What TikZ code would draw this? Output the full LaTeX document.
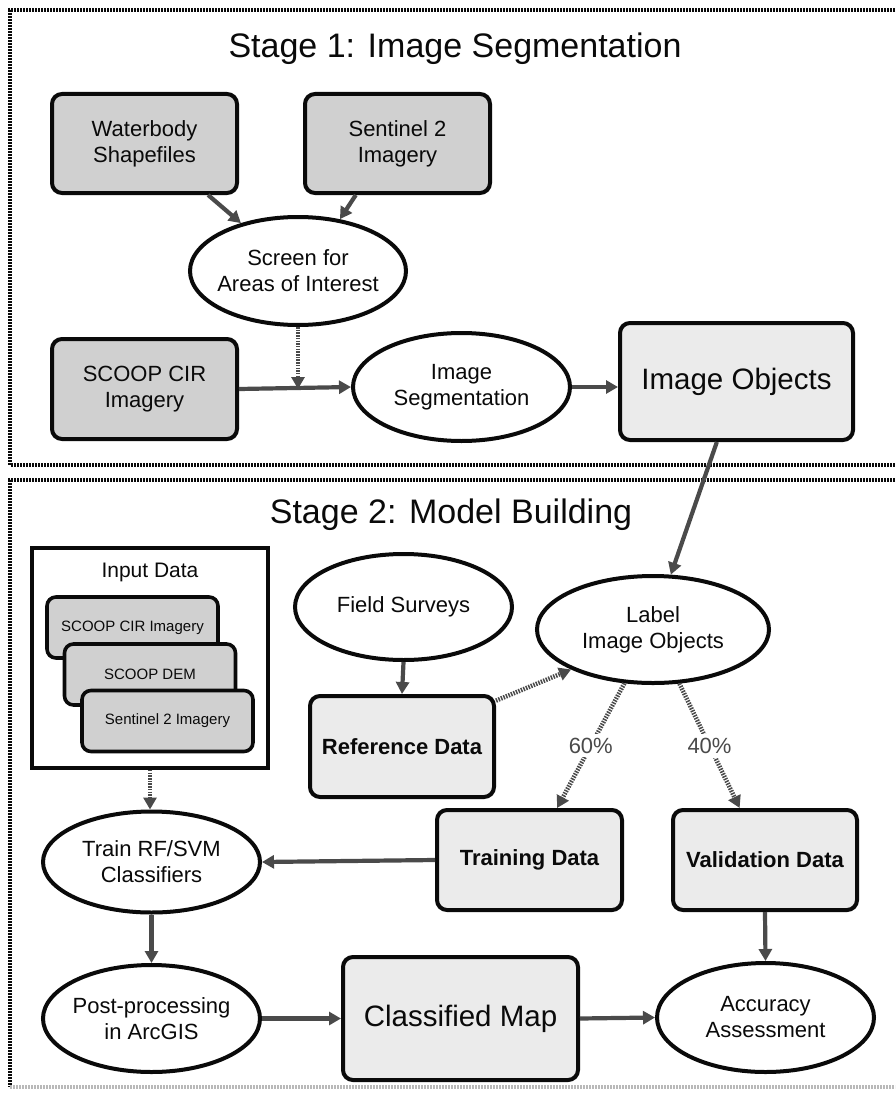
\documentclass[tikz,border=0pt]{standalone}
\usepackage{fontspec}
\setmainfont{Liberation Sans}
\usetikzlibrary{shapes.geometric,arrows.meta}
\definecolor{dk}{HTML}{D0D0D0}
\definecolor{lt}{HTML}{EBEBEB}
\definecolor{ar}{HTML}{4A4A4A}
\definecolor{ink}{HTML}{0A0A0A}
\begin{document}
\begin{tikzpicture}[x=1pt,y=-1pt,
 frame/.style={line width=3.2pt, dash pattern=on 2pt off 1pt, draw=ink},
 title/.style={font=\fontsize{34}{40}\selectfont, text=ink, anchor=base},
 darkbox/.style={draw=ink, line width=4pt, rounded corners=10pt, fill=dk, inner sep=0pt, align=center, text=ink, font=\fontsize{22}{26}\selectfont},
 lightbox/.style={draw=ink, line width=4pt, rounded corners=10pt, fill=lt, inner sep=0pt, align=center, text=ink},
 stackbox/.style={draw=ink, line width=3.6pt, rounded corners=9pt, fill=dk, inner sep=0pt, minimum width=171pt, minimum height=61pt, text=ink, font=\fontsize{15}{18}\selectfont},
 oval/.style={ellipse, draw=ink, line width=4pt, fill=white, inner sep=0pt},
 ovaltxt/.style={align=center, text=ink, font=\fontsize{22}{26}\selectfont},
 bold22/.style={font=\fontsize{22}{26}\selectfont\bfseries},
 big/.style={font=\fontsize{29.5}{34}\selectfont},
 arr/.style={draw=ar, line width=4.2pt, -{Triangle[length=12pt,width=13pt]}},
 dotarr/.style={arr, line width=4.5pt, dash pattern=on 1.5pt off 1.2pt},
 pct/.style={fill=white, text=ar, inner sep=4pt, font=\fontsize{22}{26}\selectfont}
]
\useasboundingbox (0,0) rectangle (895,1097);
\fill[white] (0,0) rectangle (895,1097);

% stage frames
\draw[frame] (895,10) -- (10,10) -- (10,465) -- (895,465);
\draw[frame] (895,480) -- (10,480) -- (10,1087);
\draw[frame, draw=gray!55] (10,1087) -- (895,1087);

% titles
\node[title] (t1) at (455,58) {Stage 1: Image Segmentation};
\node[title] (t2) at (451,523) {Stage 2: Model Building};

% stage 1
\node[darkbox, minimum width=185pt, minimum height=99pt] (wb) at (144.5,143.5) {Waterbody\\Shapefiles};
\node[darkbox, minimum width=185pt, minimum height=99pt] (sen) at (397.5,143.5) {Sentinel 2\\Imagery};
\node[oval, minimum width=216pt, minimum height=108pt] (scr) at (298,271) {};
\node[ovaltxt] (scrt) at (scr) {Screen for\\Areas of Interest};
\node[darkbox, minimum width=185pt, minimum height=100pt] (scoop) at (144.5,389) {SCOOP CIR\\Imagery};
\node[oval, minimum width=217pt, minimum height=108pt] (seg) at (461.5,387) {};
\node[ovaltxt] (segt) at (seg) {Image\\Segmentation};
\node[lightbox, big, minimum width=233pt, minimum height=117pt] (obj) at (736.5,381.5) {Image Objects};

\draw[arr] (wb.-39) -- (scr.140);
\draw[arr] (sen.231) -- (scr.51);
\draw[arr] (scoop.east) -- (seg.west);
\draw[dotarr] (scr.south) -- (scr.south |- scoop.east);
\draw[arr] (seg.east) -- (seg.east -| obj.west);

% stage 2: input data
\node[draw=ink, line width=3.8pt, fill=white, minimum width=236pt, minimum height=220pt, inner sep=0pt] (inp) at (150,658) {};
\node[text=ink, font=\fontsize{21}{25}\selectfont] (inpt) at (150,572) {Input Data};
\node[stackbox] (s1) at (132.5,627.5) {SCOOP CIR Imagery};
\node[stackbox] (s2) at (150,674.5) {SCOOP DEM};
\node[stackbox] (s3) at (167.5,721) {Sentinel 2 Imagery};

\node[oval, minimum width=217pt, minimum height=106pt] (fs) at (403.5,607) {};
\node[ovaltxt] (fst) at (fs) {Field Surveys};
\node[oval, minimum width=232pt, minimum height=107pt] (lab) at (653,629.5) {};
\node[ovaltxt] (labt) at (lab) {Label\\Image Objects};
\node[lightbox, bold22, minimum width=184pt, minimum height=101pt] (ref) at (402,746.5) {Reference Data};
\node[lightbox, bold22, minimum width=185pt, minimum height=100pt] (trn) at (529.5,860) {Training Data};
\node[lightbox, bold22, minimum width=184pt, minimum height=100pt] (val) at (765,860) {Validation Data};
\node[oval, minimum width=217pt, minimum height=101pt] (rf) at (151.5,862) {};
\node[ovaltxt] (rft) at (rf) {Train RF/SVM\\Classifiers};
\node[oval, minimum width=217pt, minimum height=107pt] (post) at (151.5,1018.5) {};
\node[ovaltxt] (postt) at (post) {Post-processing\\in ArcGIS};
\node[lightbox, big, minimum width=235pt, minimum height=123pt] (map) at (460.5,1018.5) {Classified Map};
\node[oval, minimum width=217pt, minimum height=109pt] (acc) at (765.5,1017.5) {};
\node[ovaltxt] (acct) at (acc) {Accuracy\\Assessment};

% connectors
\draw[arr] (obj.-108) -- (lab.72);
\draw[arr] (fs.south) -- (ref.north);
\draw[dotarr] (ref.26) -- (lab.206);
\draw[dotarr] (lab.242) -- node[pct] (p60) {60\%} (trn.62);
\draw[dotarr] (lab.-64) -- node[pct] (p40) {40\%} (val.116);
\draw[dotarr] (inp.south) -- (inp.south |- rf.north);
\draw[arr] (trn.west) -- (rf.east);
\draw[arr] (rf.south) -- (post.north);
\draw[arr] (post.east) -- (map.west);
\draw[arr] (map.east) -- (acc.west);
\draw[arr] (val.south) -- (acc.north);
\end{tikzpicture}
\end{document}
